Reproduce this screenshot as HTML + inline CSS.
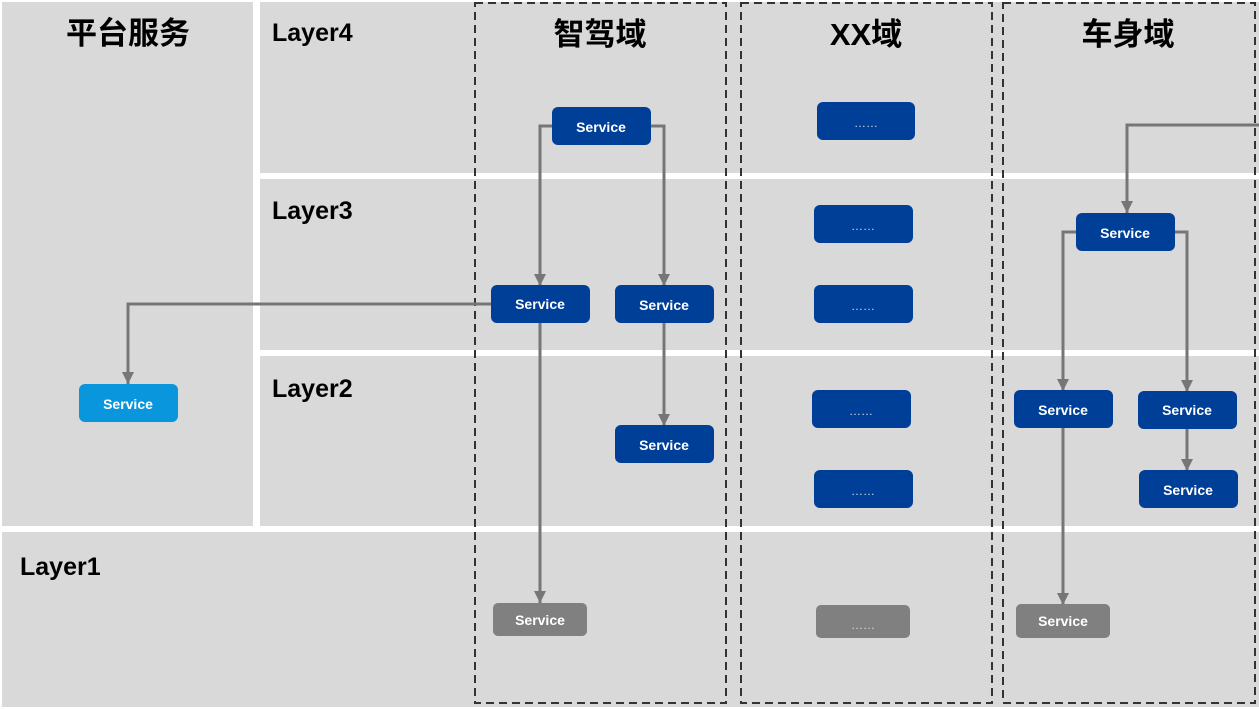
<!DOCTYPE html>
<html><head><meta charset="utf-8"><style>
body{margin:0;background:#fff}
svg{display:block}
text{font-family:"Liberation Sans","Noto Sans CJK SC",sans-serif}
.h{font-size:31px;font-weight:bold;fill:#000}
.l{font-size:25px;font-weight:bold;fill:#000}
.s{font-size:14px;font-weight:bold;fill:#fff;text-anchor:middle;dominant-baseline:central}
.d{font-size:12px;fill:#ddd;text-anchor:middle;dominant-baseline:central}
</style></head><body>
<svg width="1259" height="709" viewBox="0 0 1259 709">
<defs>
<marker id="a" markerWidth="14" markerHeight="14" refX="12" refY="6" orient="auto" markerUnits="userSpaceOnUse"><path d="M0,0 L12,6 L0,12 Z" fill="#767676"/></marker></defs>
<g fill="#d9d9d9">
<rect x="2" y="2" width="251" height="524"/>
<rect x="260" y="2" width="999" height="171"/>
<rect x="260" y="179" width="999" height="171"/>
<rect x="260" y="356" width="999" height="170"/>
<rect x="2" y="532" width="1257" height="175"/>
</g>
<g fill="none" stroke="#333" stroke-width="2" stroke-dasharray="8,5">
<rect x="475" y="3" width="251" height="700"/>
<rect x="741" y="3" width="251" height="700"/>
<rect x="1003" y="3" width="252" height="700"/>
</g>
<text class="h" x="128" y="44" text-anchor="middle">平台服务</text>
<text class="h" x="600" y="45" text-anchor="middle">智驾域</text>
<text class="h" x="866" y="45" text-anchor="middle">XX域</text>
<text class="h" x="1128" y="45" text-anchor="middle">车身域</text>
<text class="l" x="272" y="41">Layer4</text>
<text class="l" x="272" y="219">Layer3</text>
<text class="l" x="272" y="397">Layer2</text>
<text class="l" x="20" y="575">Layer1</text>
<g fill="none" stroke="#767676" stroke-width="3">
<path d="M552,126 H540 V286" marker-end="url(#a)"/>
<path d="M651,126 H664 V286" marker-end="url(#a)"/>
<path d="M491,304 H128 V384" marker-end="url(#a)"/>
<path d="M664,323 V426" marker-end="url(#a)"/>
<path d="M540,323 V603" marker-end="url(#a)"/>
<path d="M1259,125 H1127 V213" marker-end="url(#a)"/>
<path d="M1077,232 H1063 V391" marker-end="url(#a)"/>
<path d="M1175,232 H1187 V392" marker-end="url(#a)"/>
<path d="M1187,429 V471" marker-end="url(#a)"/>
<path d="M1063,428 V605" marker-end="url(#a)"/>
</g>
<g fill="#003f98">
<rect x="552" y="107" width="99" height="38" rx="6"/>
<rect x="491" y="285" width="99" height="38" rx="6"/>
<rect x="615" y="285" width="99" height="38" rx="6"/>
<rect x="615" y="425" width="99" height="38" rx="6"/>
<rect x="817" y="102" width="98" height="38" rx="6"/>
<rect x="814" y="205" width="99" height="38" rx="6"/>
<rect x="814" y="285" width="99" height="38" rx="6"/>
<rect x="812" y="390" width="99" height="38" rx="6"/>
<rect x="814" y="470" width="99" height="38" rx="6"/>
<rect x="1076" y="213" width="99" height="38" rx="6"/>
<rect x="1014" y="390" width="99" height="38" rx="6"/>
<rect x="1138" y="391" width="99" height="38" rx="6"/>
<rect x="1139" y="470" width="99" height="38" rx="6"/>
</g>
<rect x="79" y="384" width="99" height="38" rx="6" fill="#0a96dd"/>
<g fill="#808080">
<rect x="493" y="603" width="94" height="33" rx="5"/>
<rect x="816" y="605" width="94" height="33" rx="5"/>
<rect x="1016" y="604" width="94" height="34" rx="5"/>
</g>
<text class="s" x="601" y="127">Service</text>
<text class="s" x="540" y="304">Service</text>
<text class="s" x="664" y="305">Service</text>
<text class="s" x="664" y="445">Service</text>
<text class="s" x="128" y="404">Service</text>
<text class="s" x="1125" y="233">Service</text>
<text class="s" x="1063" y="410">Service</text>
<text class="s" x="1187" y="410">Service</text>
<text class="s" x="1188" y="490">Service</text>
<text class="s" x="540" y="620">Service</text>
<text class="s" x="1063" y="621">Service</text>
<text class="d" x="866" y="123">……</text>
<text class="d" x="863" y="226">……</text>
<text class="d" x="863" y="306">……</text>
<text class="d" x="861" y="411">……</text>
<text class="d" x="863" y="491">……</text>
<text class="d" x="863" y="625">……</text>
</svg>
</body></html>
